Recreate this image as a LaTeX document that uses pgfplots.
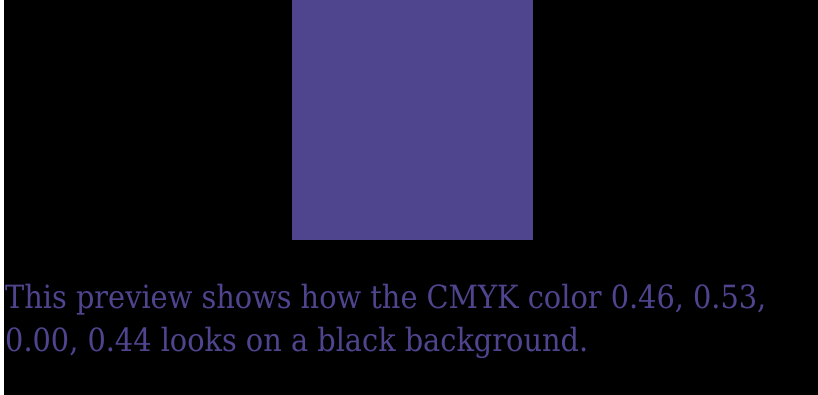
\documentclass[border=0pt]{standalone}
\usepackage{pgfplots}
\pgfplotsset{compat=1.18}
\usepackage{fontspec}
\setmainfont{DejaVu Serif Condensed}
\definecolor{swatch}{RGB}{79,69,143}
\begin{document}
\begin{tikzpicture}
\begin{axis}[
  width=818bp, height=395bp, scale only axis,
  xmin=0, xmax=818, ymin=0, ymax=395, y dir=reverse,
  hide axis, clip=false,
]
\fill[white] (axis cs:0,0) rectangle (axis cs:4,395);
\fill[black] (axis cs:4,0) rectangle (axis cs:818,395);
\addplot[draw=none, fill=swatch] coordinates {(292,0) (533,0) (533,240) (292,240)} -- cycle;
\node[anchor=base west, inner sep=0pt, text=swatch, font=\fontsize{32bp}{43bp}\selectfont] at (axis cs:5,308) {This preview shows how the CMYK color 0.46, 0.53,};
\node[anchor=base west, inner sep=0pt, text=swatch, font=\fontsize{32bp}{43bp}\selectfont] at (axis cs:5,351) {0.00, 0.44 looks on a black background.};
\end{axis}
\end{tikzpicture}
\end{document}
